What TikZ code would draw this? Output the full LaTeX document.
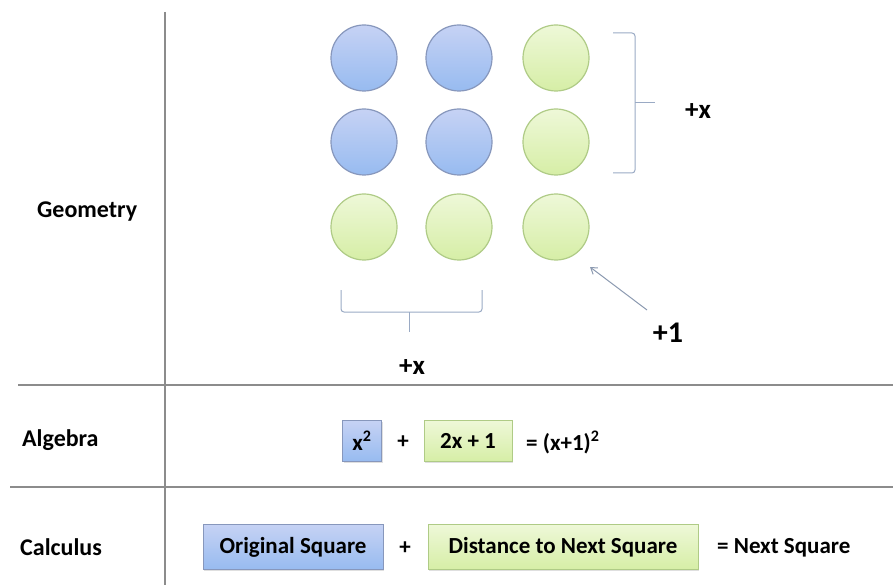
\documentclass[tikz,border=0pt]{standalone}
\usepackage{fontspec}
\setmainfont{Carlito}
\usetikzlibrary{arrows.meta,shadows}
\definecolor{gridgrey}{HTML}{8C8C8C}
\definecolor{bracecol}{HTML}{9AAAC4}
\definecolor{bluetop}{HTML}{C6D2F4}
\definecolor{bluebot}{HTML}{97BBF0}
\definecolor{blueedge}{HTML}{8797BC}
\definecolor{greentop}{HTML}{EEF8D8}
\definecolor{greenbot}{HTML}{D6EEA6}
\definecolor{greenedge}{HTML}{AFCB86}
\tikzset{
  rule/.style={draw=gridgrey, line width=1.6pt},
  bdot/.style={circle, minimum size=66pt, inner sep=0pt, draw=blueedge, line width=1.2pt, top color=bluetop, bottom color=bluebot},
  gdot/.style={circle, minimum size=66pt, inner sep=0pt, draw=greenedge, line width=1.2pt, top color=greentop, bottom color=greenbot},
  bbox/.style={draw=blueedge, line width=0.9pt, top color=bluetop, bottom color=bluebot, inner sep=0pt, font=\bfseries\fontsize{23}{26}\selectfont, drop shadow={shadow xshift=1pt, shadow yshift=-1.5pt, opacity=0.25}},
  gbox/.style={draw=greenedge, line width=0.9pt, top color=greentop, bottom color=greenbot, inner sep=0pt, font=\bfseries\fontsize{23}{26}\selectfont, drop shadow={shadow xshift=1pt, shadow yshift=-1.5pt, opacity=0.25}},
  rowlabel/.style={font=\bfseries\fontsize{24}{28}\selectfont, anchor=west, inner sep=0pt},
  big/.style={font=\bfseries\fontsize{27}{30}\selectfont, inner sep=0pt},
  small/.style={font=\bfseries\fontsize{23}{26}\selectfont, inner sep=0pt},
  brace/.style={draw=bracecol, line width=1pt, rounded corners=3pt},
}
\begin{document}
\begin{tikzpicture}[x=1pt,y=-1pt]
\useasboundingbox (0,0) rectangle (893,585);
% grid lines
\coordinate (vt) at (165,12);
\coordinate (vb) at (165,585);
\coordinate (h1l) at (18,385);
\coordinate (h1r) at (893,385);
\coordinate (h2l) at (10,487);
\coordinate (h2r) at (893,487);
\draw[rule] (vt) -- (vb);
\draw[rule] (h1l) -- (h1r);
\draw[rule] (h2l) -- (h2r);
% row labels
\node[rowlabel] (geo) at (37,212) {Geometry};
\node[rowlabel] (alg) at (22,440) {Algebra};
\node[rowlabel] (cal) at (20,547) {Calculus};
% circles
\node[bdot] (c11) at (364,58) {};
\node[bdot] (c12) at (459,58) {};
\node[gdot] (c13) at (556,58) {};
\node[bdot] (c21) at (364,142) {};
\node[bdot] (c22) at (459,142) {};
\node[gdot] (c23) at (556,142) {};
\node[gdot] (c31) at (364,227) {};
\node[gdot] (c32) at (459,227) {};
\node[gdot] (c33) at (556,227) {};
% right brace
\draw[brace] (613,33) -- (635,33) -- (635,173) -- (613,173);
\coordinate (rbm) at (635,103);
\coordinate (rbt) at (655,103);
\draw[draw=bracecol, line width=1pt] (rbm) -- (rbt);
\node[big] (px1) at (698,111) {+x};
% bottom brace
\draw[brace] (341,290) -- (341,312) -- (482,312) -- (482,290);
\coordinate (bbm) at (409,312);
\coordinate (bbt) at (409,332);
\draw[draw=bracecol, line width=1pt] (bbm) -- (bbt);
\node[big] (px2) at (412,367) {+x};
% +1 arrow
\node[big, font=\bfseries\fontsize{30}{34}\selectfont] (p1) at (668,333) {+1};
\coordinate (atail) at (647,310);
\coordinate (ahead) at (590,267);
\draw[draw=bracecol!90!black, line width=1pt, -{Straight Barb[length=6pt,width=8pt]}] (atail) -- (ahead);
% algebra row
\node[bbox, minimum width=39pt, minimum height=41pt] (xsq) at (362,441) {x\textsuperscript{2}};
\node[small] (plus1) at (403,442) {+};
\node[gbox, minimum width=88pt, minimum height=41pt] (lin) at (468,441) {2x + 1};
\node[small, anchor=west] (res1) at (526,442) {= (x+1)\textsuperscript{2}};
% calculus row
\node[bbox, minimum width=180pt, minimum height=45pt] (orig) at (293,547) {Original Square};
\node[small] (plus2) at (405,548) {+};
\node[gbox, minimum width=270pt, minimum height=45pt] (dist) at (563,547) {Distance to Next Square};
\node[small, anchor=west] (res2) at (717,548) {= Next Square};
\end{tikzpicture}
\end{document}
